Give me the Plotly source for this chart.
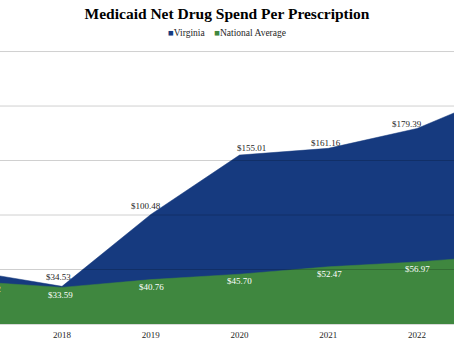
import plotly.graph_objects as go

# ---- data ----
years = [2017, 2018, 2019, 2020, 2021, 2022, 2023]
virginia = [48.20, 34.53, 100.48, 155.01, 161.16, 179.39, 213.60]
national = [39.02, 33.59, 40.76, 45.70, 52.47, 56.97, 63.00]
tick_years = [2018, 2019, 2020, 2021, 2022]
y_ticks = [0, 50, 100, 150, 200, 250]

# label nudges (pixels), Excel-like placement
va_dx = [0, -4, -5, 12, -2, -10, 0]
va_dy = [8, 9, 8, 7, 5, 4.5, 5]
na_dx = [0, -2, 1, 0, 1, 1, 0]
na_dy = [-8, -8, -7, -7, -7, -7, -7]

BLUE = "#163A7F"
GREEN = "#3F873F"
FONT = "Liberation Serif"
XRANGE = [2017.301, 2022.417]

fig = go.Figure()
fig.add_trace(go.Scatter(x=years, y=virginia, mode="lines", fill="tozeroy",
                         line=dict(color=BLUE, width=0.5), fillcolor=BLUE,
                         name="Virginia", showlegend=False, hoverinfo="skip"))
fig.add_trace(go.Scatter(x=years, y=national, mode="lines", fill="tozeroy",
                         line=dict(color=GREEN, width=0.5), fillcolor=GREEN,
                         name="National Average", showlegend=False, hoverinfo="skip"))

anns = []
for i, (yr, v) in enumerate(zip(years, virginia)):
    anns.append(dict(x=yr, y=v, xref="x", yref="y", text=f"${v:.2f}", showarrow=False,
                     xshift=va_dx[i], yshift=va_dy[i], yanchor="middle",
                     font=dict(family=FONT, size=9, color="#262626")))
for i, (yr, v) in enumerate(zip(years, national)):
    anns.append(dict(x=yr, y=v, xref="x", yref="y", text=f"${v:.2f}", showarrow=False,
                     xshift=na_dx[i], yshift=na_dy[i], yanchor="middle",
                     font=dict(family=FONT, size=9, color="white")))
# partially visible 2017 national label at the left edge
anns.append(dict(x=XRANGE[0], y=national[0], xref="x", yref="y", text=f"${national[0]:.2f}",
                 showarrow=False, xanchor="right", xshift=3, yshift=-8, yanchor="middle",
                 font=dict(family=FONT, size=9, color="white")))
# legend
anns.append(dict(x=0.5, y=1, xref="paper", yref="paper", yanchor="middle", yshift=18,
                 showarrow=False,
                 text=f"<span style='color:{BLUE}'>■</span>Virginia    "
                      f"<span style='color:{GREEN}'>■</span>National Average",
                 font=dict(family=FONT, size=9.5, color="#262626")))

# gridlines drawn over the areas, faintly (as in the reference)
shapes = [dict(type="line", xref="paper", x0=0, x1=1, yref="y", y0=t, y1=t,
               line=dict(color="rgba(0,0,0,0.19)", width=1), layer="above")
          for t in y_ticks[1:]]

fig.update_layout(
    width=454, height=341,
    margin=dict(l=0, r=0, t=51, b=17),
    paper_bgcolor="white", plot_bgcolor="white",
    title=dict(text="<b>Medicaid Net Drug Spend Per Prescription</b>", x=0.5, xanchor="center",
               y=1 - 14 / 341, yanchor="middle",
               font=dict(family=FONT, size=15.5, color="black")),
    annotations=anns,
    shapes=shapes,
    xaxis=dict(range=XRANGE, tickvals=tick_years, ticktext=[str(t) for t in tick_years],
               showgrid=False, zeroline=False, showline=True, linecolor="#D9D9D9", linewidth=1,
               ticks="", tickfont=dict(family=FONT, size=9, color="#262626"), ticklabelstandoff=2),
    yaxis=dict(range=[0, 250.5], tickvals=y_ticks, showticklabels=False, showgrid=False,
               zeroline=False),
)

fig.write_html("out.html")
